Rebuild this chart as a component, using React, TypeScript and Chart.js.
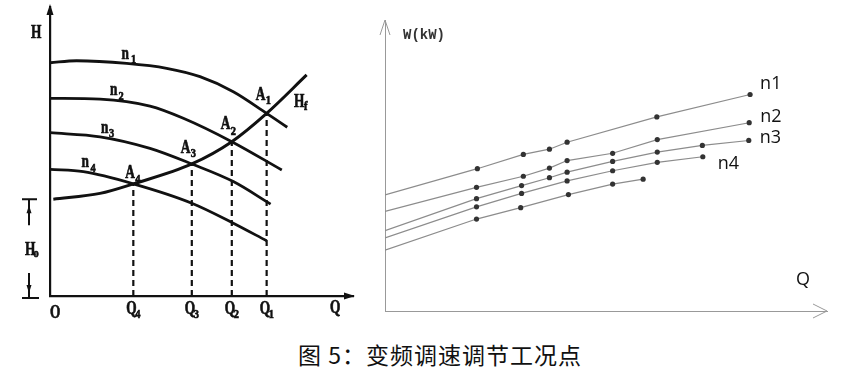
import React, { useEffect, useRef } from "react";
import { Chart, registerables } from "chart.js";
Chart.register(...registerables);

// ---------- Left chart: H–Q pump curves at speeds n1..n4 and system curve Hf ----------
const n1Q = [0, 0.88, 2.53, 3.85, 4.95, 6.05, 7.15, 7.83];
const n1H = [8.07, 8.14, 8.05, 7.88, 7.59, 7.07, 6.32, 5.84];
const n2Q = [0, 1.65, 3.3, 4.4, 6.0, 7.65];
const n2H = [6.84, 6.81, 6.57, 6.15, 5.34, 4.36];
const n3Q = [0, 1.65, 3.3, 4.68, 6.05, 7.28];
const n3H = [5.65, 5.51, 5.11, 4.57, 3.96, 3.18];
const n4Q = [0, 1.1, 2.75, 4.68, 6.05, 7.15];
const n4H = [4.38, 4.3, 3.88, 3.21, 2.52, 1.91];
const hfQ = [0.11, 1.65, 2.75, 4.68, 6.0, 7.15, 8.47];
const hfH = [3.35, 3.55, 3.88, 4.57, 5.34, 6.32, 7.65];
// operating points A1..A4
const opNames = ["1", "2", "3", "4"];
const opQ = [7.15, 6.0, 4.68, 2.75];
const opH = [6.32, 5.34, 4.57, 3.88];

// ---------- Right chart: W–Q power curves ----------
const seriesNames = ["n1", "n2", "n3", "n4", ""];
const w1Q = [0, 2.09, 3.13, 3.72, 4.12, 6.15, 8.26];
const w1W = [3.99, 4.89, 5.38, 5.56, 5.8, 6.67, 7.44];
const w2Q = [0, 2.07, 3.13, 3.72, 4.12, 5.15, 6.16, 8.24];
const w2W = [3.42, 4.25, 4.63, 4.91, 5.17, 5.42, 5.89, 6.47];
const w3Q = [0, 2.07, 3.09, 3.72, 4.12, 5.15, 6.16, 7.18, 8.23];
const w3W = [2.76, 3.86, 4.31, 4.58, 4.77, 5.14, 5.46, 5.69, 5.86];
const w4Q = [0, 2.07, 3.09, 4.12, 5.15, 6.16, 7.19];
const w4W = [2.51, 3.58, 4.04, 4.47, 4.82, 5.11, 5.3];
const w5Q = [0, 2.07, 3.07, 4.15, 5.15, 5.84];
const w5W = [2.09, 3.16, 3.55, 4.0, 4.36, 4.53];

const caption = "图 5：变频调速调节工况点";

const zip = (xs: number[], ys: number[]) => xs.map((x, i) => ({ x, y: ys[i] }));

const SERIF = '"Liberation Serif", "DejaVu Serif", serif';
const SANS = '"Open Sans", "Noto Sans", sans-serif';

function condText(ctx: CanvasRenderingContext2D, text: string, x: number, y: number, size: number, sx = 0.72) {
  ctx.save();
  ctx.font = `bold ${size}px ${SERIF}`;
  ctx.translate(x, y);
  ctx.scale(sx, 1);
  ctx.textAlign = "left";
  ctx.textBaseline = "alphabetic";
  ctx.fillStyle = "#111";
  ctx.strokeStyle = "#111";
  ctx.lineWidth = 0.7;
  ctx.fillText(text, 0, 0);
  ctx.strokeText(text, 0, 0);
  ctx.restore();
}

function subLabel(ctx: CanvasRenderingContext2D, base: string, sub: string, x: number, y: number, sx: number, sy: number) {
  condText(ctx, base, x, y, 19, 0.7);
  condText(ctx, sub, sx, sy, 13, 0.8);
}

const leftPlugin = {
  id: "leftDecor",
  afterDraw(chart: any) {
    const ctx: CanvasRenderingContext2D = chart.ctx;
    const a = chart.chartArea;
    const xs = chart.scales.x;
    const ys = chart.scales.y;
    ctx.save();
    ctx.fillStyle = "#111";
    ctx.strokeStyle = "#111";
    // axis arrows
    ctx.beginPath();
    ctx.moveTo(a.left, a.top - 3);
    ctx.lineTo(a.left - 3.5, a.top + 8);
    ctx.lineTo(a.left + 3.5, a.top + 8);
    ctx.closePath();
    ctx.fill();
    ctx.beginPath();
    ctx.moveTo(a.right + 2, a.bottom);
    ctx.lineTo(a.right - 9, a.bottom - 3.5);
    ctx.lineTo(a.right - 9, a.bottom + 3.5);
    ctx.closePath();
    ctx.fill();

    // axis names
    condText(ctx, "H", 31, 38, 19, 0.7);
    condText(ctx, "Q", 330, 313, 19, 0.7);
    condText(ctx, "O", 50, 318, 19, 0.7);

    // curve labels
    subLabel(ctx, "n", "1", 121.5, 58.5, 131, 62.5);
    subLabel(ctx, "n", "2", 110, 95, 118.5, 100);
    subLabel(ctx, "n", "3", 101, 132.5, 109, 136.5);
    subLabel(ctx, "n", "4", 81.5, 166.5, 90.5, 171.5);
    subLabel(ctx, "H", "f", 294, 106.5, 304, 110);

    // operating point labels A_i and Q_i ticks
    const aOff = [
      [-11, -13, -1, -9],
      [-11, -13, -1, -7],
      [-11, -11, -1, -7],
      [-8, -6, 2, -1],
    ];
    opNames.forEach((nm, i) => {
      const px = xs.getPixelForValue(opQ[i]);
      const py = ys.getPixelForValue(opH[i]);
      const o = aOff[i];
      subLabel(ctx, "A", nm, px + o[0], py + o[1], px + o[2], py + o[3]);
      const bx = xs.getPixelForValue(opQ[i]);
      subLabel(ctx, "Q", nm, bx - 7, a.bottom + 18, bx + 2, a.bottom + 22);
    });

    // H0 bracket
    const hy = ys.getPixelForValue(hfH[0]);
    ctx.lineWidth = 2;
    ctx.beginPath();
    ctx.moveTo(22, hy);
    ctx.lineTo(37, hy);
    ctx.moveTo(29, hy);
    ctx.lineTo(29, hy + 26);
    ctx.moveTo(22, a.bottom + 2);
    ctx.lineTo(39, a.bottom + 2);
    ctx.moveTo(29, a.bottom + 2);
    ctx.lineTo(29, a.bottom - 23);
    ctx.stroke();
    ctx.beginPath();
    ctx.moveTo(29, hy + 6);
    ctx.lineTo(26.5, hy + 14);
    ctx.lineTo(31.5, hy + 14);
    ctx.closePath();
    ctx.fill();
    ctx.beginPath();
    ctx.moveTo(29, a.bottom - 3);
    ctx.lineTo(26.5, a.bottom - 11);
    ctx.lineTo(31.5, a.bottom - 11);
    ctx.closePath();
    ctx.fill();
    subLabel(ctx, "H", "o", 25, 255, 33.5, 257);
    ctx.restore();
  },
};

const rightPlugin = {
  id: "rightDecor",
  afterDraw(chart: any) {
    const ctx: CanvasRenderingContext2D = chart.ctx;
    const a = chart.chartArea;
    ctx.save();
    ctx.strokeStyle = "#999";
    ctx.lineWidth = 1;
    ctx.beginPath();
    ctx.moveTo(a.left - 5, a.top + 15);
    ctx.lineTo(a.left, a.top);
    ctx.lineTo(a.left + 5, a.top + 15);
    ctx.moveTo(a.right - 14, a.bottom - 7);
    ctx.lineTo(a.right, a.bottom);
    ctx.lineTo(a.right - 14, a.bottom + 7);
    ctx.stroke();

    ctx.fillStyle = "#333";
    ctx.font = `bold 14px "Liberation Mono", "DejaVu Sans Mono", monospace`;
    ctx.textBaseline = "middle";
    ctx.textAlign = "left";
    ctx.fillText("W(kW)", 33, 35);

    ctx.fillStyle = "#111";
    ctx.font = `18px ${SANS}`;
    ctx.textBaseline = "alphabetic";
    ctx.fillText("Q", 426, 285);
    const lastQ = [w1Q, w2Q, w3Q, w4Q];
    const lastW = [w1W, w2W, w3W, w4W];
    const offs = [
      [10, -5],
      [11, -1],
      [11, 3],
      [15, 12],
    ];
    for (let i = 0; i < 4; i++) {
      const q = lastQ[i][lastQ[i].length - 1];
      const w = lastW[i][lastW[i].length - 1];
      const px = chart.scales.x.getPixelForValue(q);
      const py = chart.scales.y.getPixelForValue(w);
      ctx.fillText(seriesNames[i], px + offs[i][0], py + offs[i][1]);
    }
    ctx.restore();
  },
};

function LeftChart() {
  const ref = useRef<HTMLCanvasElement>(null);
  useEffect(() => {
    const curve = (d: any[], bw = 2.8) => ({
      data: d,
      borderColor: "#111",
      borderWidth: bw,
      pointRadius: 0,
      tension: 0.4,
      cubicInterpolationMode: "monotone" as const,
      fill: false,
    });
    const dashed = opQ.map((q, i) => ({
      data: [
        { x: q, y: 0 },
        { x: q, y: opH[i] },
      ],
      borderColor: "#111",
      borderWidth: 2.2,
      borderDash: [6, 4],
      pointRadius: 0,
      fill: false,
    }));
    const chart = new Chart(ref.current!, {
      type: "line",
      data: {
        datasets: [
          curve(zip(n1Q, n1H)),
          curve(zip(n2Q, n2H)),
          curve(zip(n3Q, n3H)),
          curve(zip(n4Q, n4H)),
          curve(zip(hfQ, hfH), 3),
          ...dashed,
        ] as any,
      },
      options: {
        animation: false,
        responsive: false,
        devicePixelRatio: 1,
        layout: { padding: { left: 50, top: 7, right: 17, bottom: 34 }, autoPadding: false },
        plugins: { legend: { display: false }, tooltip: { enabled: false } },
        scales: {
          x: {
            type: "linear",
            min: 0,
            max: 10,
            grid: { display: false, drawTicks: false },
            ticks: { display: false },
            border: { display: true, color: "#111", width: 2.2 },
          },
          y: {
            type: "linear",
            min: 0,
            max: 10,
            grid: { display: false, drawTicks: false },
            ticks: { display: false },
            border: { display: true, color: "#111", width: 2.2 },
          },
        },
      },
      plugins: [leftPlugin],
    });
    return () => chart.destroy();
  }, []);
  return <canvas ref={ref} width={370} height={330} style={{ position: "absolute", left: 0, top: 0, width: 370, height: 330 }} />;
}

function RightChart() {
  const ref = useRef<HTMLCanvasElement>(null);
  useEffect(() => {
    const series = [
      zip(w1Q, w1W),
      zip(w2Q, w2W),
      zip(w3Q, w3W),
      zip(w4Q, w4W),
      zip(w5Q, w5W),
    ];
    const chart = new Chart(ref.current!, {
      type: "line",
      data: {
        datasets: series.map((d, i) => ({
          label: seriesNames[i],
          data: d,
          borderColor: "#8c8c8c",
          borderWidth: 1.2,
          pointRadius: d.map((_, j) => (j === 0 ? 0 : 2.6)),
          pointBackgroundColor: "#333",
          pointBorderWidth: 0,
          tension: 0,
          fill: false,
        })) as any,
      },
      options: {
        animation: false,
        responsive: false,
        devicePixelRatio: 1,
        layout: { padding: { left: 15, top: 20, right: 17, bottom: 19 }, autoPadding: false },
        plugins: { legend: { display: false }, tooltip: { enabled: false } },
        scales: {
          x: {
            type: "linear",
            min: 0,
            max: 10,
            grid: { display: false, drawTicks: false },
            ticks: { display: false },
            border: { display: true, color: "#999", width: 1 },
          },
          y: {
            type: "linear",
            min: 0,
            max: 10,
            grid: { display: false, drawTicks: false },
            ticks: { display: false },
            border: { display: true, color: "#999", width: 1 },
          },
        },
      },
      plugins: [rightPlugin],
    });
    return () => chart.destroy();
  }, []);
  return <canvas ref={ref} width={474} height={330} style={{ position: "absolute", left: 370, top: 0, width: 474, height: 330 }} />;
}

export default function App() {
  return (
    <div style={{ position: "absolute", left: 0, top: 0, width: 844, height: 374, background: "#fff", overflow: "hidden" }}>
      <LeftChart />
      <RightChart />
      <div
        style={{
          position: "absolute",
          left: 298,
          top: 343,
          whiteSpace: "nowrap",
          fontFamily: '"Noto Sans CJK SC", sans-serif',
          fontSize: 23,
          lineHeight: "23px",
          letterSpacing: "1px",
          color: "#111",
        }}
      >
        {caption}
      </div>
    </div>
  );
}
